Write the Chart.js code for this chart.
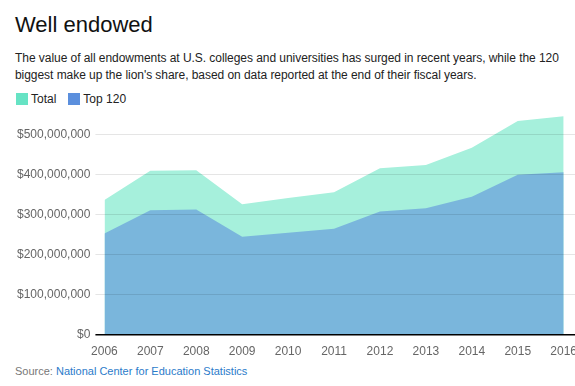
<!DOCTYPE html>
<html>
<head>
<meta charset="utf-8">
<script src="https://cdn.jsdelivr.net/npm/chart.js@4"></script>
<style>
  html, body { margin: 0; padding: 0; background: #fff; overflow: hidden; }
  body { width: 575px; height: 386px; position: relative; font-family: "Liberation Sans", Arial, sans-serif; color: #222; }
  h1 { position: absolute; left: 15px; top: 12px; margin: 0; font-size: 22px; line-height: 26px; font-weight: normal; color: #111; }
  .sub { position: absolute; left: 15px; top: 50px; margin: 0; font-size: 12px; letter-spacing: -0.05px; line-height: 17px; color: #222; }
  .legend { position: absolute; left: 16px; top: 92px; font-size: 12px; color: #222; display: flex; align-items: center; }
  .sw { width: 12px; height: 12px; margin-right: 3px; }
  .src { position: absolute; left: 15px; top: 364px; font-size: 11px; line-height: 14px; color: #777; }
  .src a { color: #2b7bca; text-decoration: none; }
  #wrap { position: absolute; left: 12px; top: 102px; width: 567px; height: 259px; }
</style>
</head>
<body>
<h1>Well endowed</h1>
<p class="sub">The value of all endowments at U.S. colleges and universities has surged in recent years, while the 120<br>biggest make up the lion's share, based on data reported at the end of their fiscal years.</p>
<div class="legend">
  <div class="sw" style="background:#66e3c4"></div><div style="margin-right:12px">Total</div>
  <div class="sw" style="background:#5b8fdd"></div><div>Top 120</div>
</div>
<div id="wrap"><canvas id="myChart"></canvas></div>
<div class="src">Source: <a href="#">National Center for Education Statistics</a></div>

<script>
"use strict"

const years = [2006, 2007, 2008, 2009, 2010, 2011, 2012, 2013, 2014, 2015, 2016];
const total = [336e6, 409e6, 410e6, 325e6, 341e6, 355e6, 415e6, 423e6, 466e6, 533e6, 545e6];
const top120 = [252e6, 310e6, 312e6, 244e6, 254e6, 264e6, 307e6, 315e6, 344e6, 399e6, 405e6];
const yTicks = [0, 100e6, 200e6, 300e6, 400e6, 500e6];

const ctx = document.getElementById('myChart');

function points(values) {
    return years.map((y, i) => ({ x: y, y: values[i] }));
}

new Chart(ctx, {
    type: 'line',
    data: {
        datasets: [{
            label: 'Top 120',
            data: points(top120),
            fill: 'origin',
            backgroundColor: '#7ab6dc',
            borderWidth: 0,
            pointRadius: 0,
            order: 1,
        }, {
            label: 'Total',
            data: points(total),
            fill: 'origin',
            backgroundColor: '#a6f0dc',
            borderWidth: 0,
            pointRadius: 0,
            order: 2,
        }]
    },
    options: {
        responsive: true,
        maintainAspectRatio: false,
        animation: false,
        layout: { padding: 0 },
        plugins: {
            legend: { display: false },
            tooltip: { enabled: false },
        },
        scales: {
            x: {
                type: 'linear',
                min: 2006,
                max: 2016.26,
                afterBuildTicks: scale => {
                    scale.ticks = years.map(v => ({ value: v }));
                },
                grid: { display: false },
                border: { display: false },
                ticks: {
                    autoSkip: false,
                    maxRotation: 0,
                    padding: 2,
                    color: '#666',
                    font: { family: 'Liberation Sans', size: 12 },
                    callback: v => String(v),
                },
            },
            y: {
                min: 0,
                max: 550e6,
                afterBuildTicks: scale => {
                    scale.ticks = yTicks.map(v => ({ value: v }));
                },
                border: { display: false },
                grid: {
                    color: c => c.tick && c.tick.value === 0 ? '#000' : 'rgba(0,0,0,0.1)',
                    lineWidth: c => c.tick && c.tick.value === 0 ? 1.5 : 1,
                    tickLength: 9,
                    z: 1,
                },
                ticks: {
                    autoSkip: false,
                    padding: 5,
                    color: '#666',
                    font: { family: 'Liberation Sans', size: 12 },
                    callback: v => '$' + v.toLocaleString('en-US'),
                },
            },
        },
    }
})
</script>
</body>
</html>
